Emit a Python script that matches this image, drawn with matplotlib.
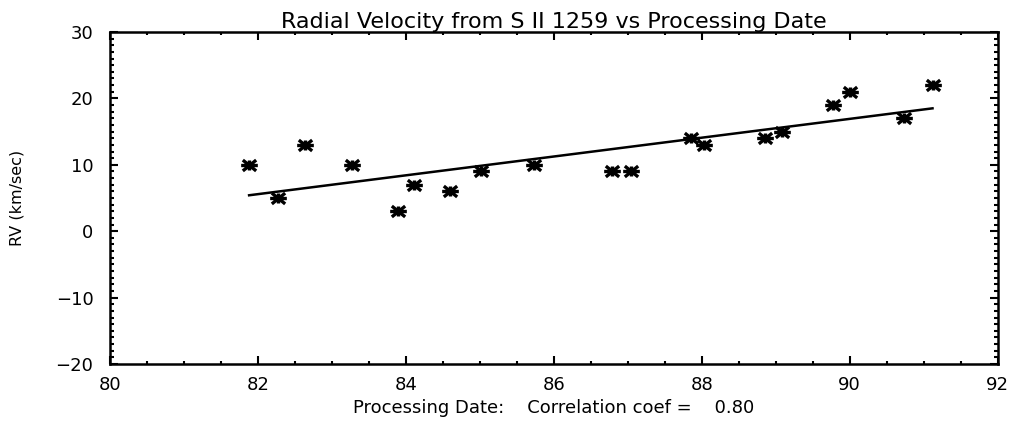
import matplotlib
matplotlib.use("Agg")
import matplotlib.pyplot as plt
import numpy as np
from matplotlib.path import Path
from matplotlib.ticker import MultipleLocator

# processing date (year - 1900) and radial velocity in km/s
date = [81.88, 82.27, 82.64, 83.27, 83.89, 84.11, 84.59, 85.01, 85.73,
        86.78, 87.05, 87.85, 88.03, 88.85, 89.09, 89.77, 90.01, 90.73, 91.12]
rv = [10, 5, 13, 10, 3, 7, 6, 9, 10,
      9, 9, 14, 13, 14, 15, 19, 21, 17, 22]
corr_text = "0.80"

date = np.array(date)
rv = np.array(rv)

# IDL style asterisk: flat bar, two shallow diagonals and a short stub
star = Path([(-1, 0), (1, 0), (-0.8, -0.65), (0.8, 0.65), (-0.8, 0.65), (0.8, -0.65),
             (0, -0.6), (0, 0.6)],
            [Path.MOVETO, Path.LINETO, Path.MOVETO, Path.LINETO, Path.MOVETO, Path.LINETO,
             Path.MOVETO, Path.LINETO])

plt.rcParams['font.family'] = 'DejaVu Sans'
fig = plt.figure(figsize=(10.19, 4.21), dpi=100)
ax = fig.add_axes([0.108, 0.1354, 0.871, 0.7886])

ax.plot(date, rv, linestyle='none', marker=star, markersize=12,
        markeredgewidth=2.4, color='black')

slope, icpt = np.polyfit(date, rv, 1)
xx = np.array([date.min(), date.max()])
ax.plot(xx, slope * xx + icpt, color='black', lw=1.8)

ax.set_xlim(80, 92)
ax.set_ylim(-20, 30)
ax.xaxis.set_major_locator(MultipleLocator(2))
ax.xaxis.set_minor_locator(MultipleLocator(0.5))
ax.yaxis.set_major_locator(MultipleLocator(10))
ax.yaxis.set_minor_locator(MultipleLocator(1))
ax.tick_params(which='both', direction='in', top=True, right=True, width=1.5)
ax.tick_params(which='major', length=6, labelsize=13)
ax.tick_params(which='minor', length=3)
ax.tick_params(axis='x', which='minor', length=2)
ax.tick_params(axis='x', pad=9)
ax.tick_params(axis='y', pad=12)
for s in ax.spines.values():
    s.set_linewidth(1.8)

ax.set_title("Radial Velocity from S II 1259 vs Processing Date",
             fontsize=16, pad=3)
ax.set_xlabel("Processing Date:    Correlation coef =    " + corr_text,
              fontsize=13, labelpad=3)
ax.set_ylabel("RV (km/sec)", fontsize=11.5, labelpad=22)

fig.savefig("out.png", dpi=100)
